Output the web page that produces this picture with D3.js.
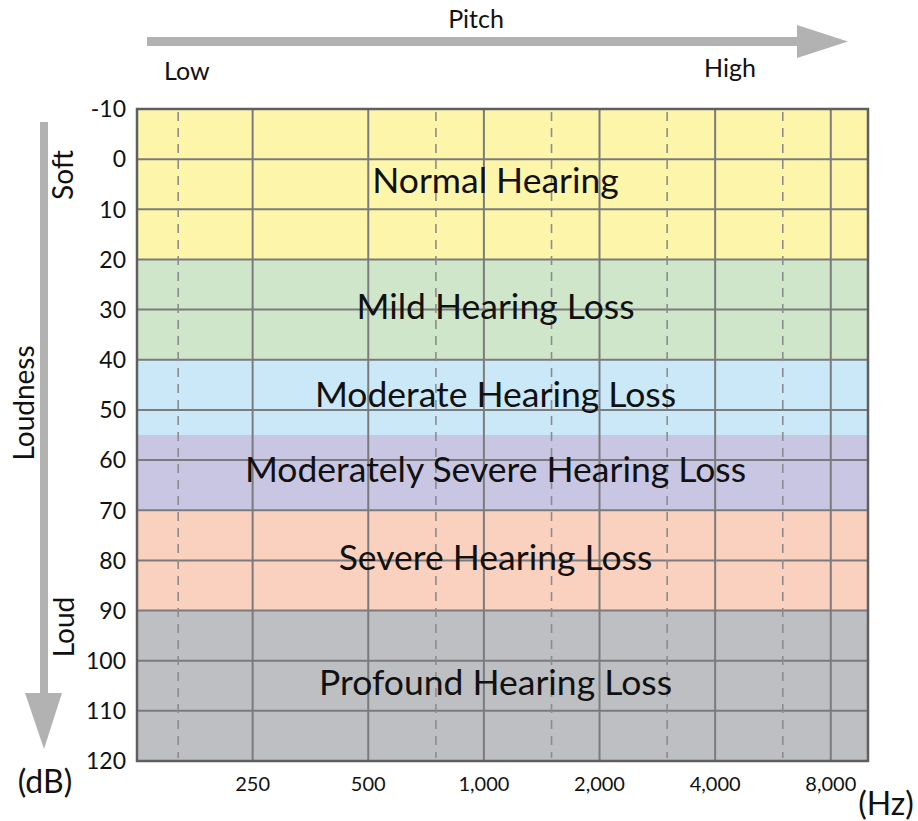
<!DOCTYPE html>
<html>
<head>
<meta charset="utf-8">
<script src="https://cdn.jsdelivr.net/npm/d3@7"></script>
<style>
  html, body { margin: 0; padding: 0; background: #ffffff; }
  svg { display: block; font-family: "Lato", "Open Sans", sans-serif; }
</style>
</head>
<body>
<svg id="chart" width="918" height="821"></svg>
<script>
// ---- Data ----
const bandLabels = ["Normal Hearing", "Mild Hearing Loss", "Moderate Hearing Loss",
  "Moderately Severe Hearing Loss", "Severe Hearing Loss", "Profound Hearing Loss"];
const bandFrom = [-10, 20, 40, 55, 70, 90];
const bandTo = [20, 40, 55, 70, 90, 120];
const bandColors = ["#fdf6aa", "#d0e6cb", "#cbe8f8", "#c8c6e3", "#fad1be", "#bdbfc2"];
const dbTicks = [-10, 0, 10, 20, 30, 40, 50, 60, 70, 80, 90, 100, 110, 120];
const freqTicks = [250, 500, 1000, 2000, 4000, 8000];
const freqTickLabels = ["250", "500", "1,000", "2,000", "4,000", "8,000"];
const freqDashed = [160, 750, 1500, 3000, 6000];
const freqDomain = [125, 10000];
const dbDomain = [-10, 120];

// ---- Layout ----
const svg = d3.select("#chart");
const plot = { left: 137, right: 868, top: 109, bottom: 761 };

const x = d3.scaleLog().domain(freqDomain).range([plot.left, plot.right]);
const y = d3.scaleLinear().domain(dbDomain).range([plot.top, plot.bottom]);

// Bands
svg.append("g").selectAll("rect")
  .data(bandLabels)
  .join("rect")
  .attr("x", plot.left)
  .attr("width", plot.right - plot.left)
  .attr("y", (d, i) => y(bandFrom[i]))
  .attr("height", (d, i) => y(bandTo[i]) - y(bandFrom[i]))
  .attr("fill", (d, i) => bandColors[i]);

// Horizontal grid lines
svg.append("g").selectAll("line")
  .data(dbTicks)
  .join("line")
  .attr("x1", plot.left).attr("x2", plot.right)
  .attr("y1", d => y(d)).attr("y2", d => y(d))
  .attr("stroke", "#7b7b7d").attr("stroke-width", 2);

// Dashed vertical lines
svg.append("g").selectAll("line")
  .data(freqDashed)
  .join("line")
  .attr("x1", d => x(d)).attr("x2", d => x(d))
  .attr("y1", plot.top + 3).attr("y2", plot.bottom - 3)
  .attr("stroke", "#8c8c90").attr("stroke-width", 1.6)
  .attr("stroke-dasharray", "9,7");

// Solid vertical lines
svg.append("g").selectAll("line")
  .data(freqTicks)
  .join("line")
  .attr("x1", d => x(d)).attr("x2", d => x(d))
  .attr("y1", plot.top).attr("y2", plot.bottom)
  .attr("stroke", "#7b7b7d").attr("stroke-width", 2);

// Border
svg.append("rect")
  .attr("x", plot.left).attr("y", plot.top)
  .attr("width", plot.right - plot.left).attr("height", plot.bottom - plot.top)
  .attr("fill", "none").attr("stroke", "#5f5f62").attr("stroke-width", 2.5);

// Band labels
svg.append("g").selectAll("text")
  .data(bandLabels)
  .join("text")
  .attr("x", (plot.left + plot.right) / 2 - 7)
  .attr("y", (d, i) => y((bandFrom[i] + bandTo[i]) / 2))
  .attr("dy", "0.26em")
  .attr("text-anchor", "middle")
  .attr("font-size", 35.5)
  .attr("fill", "#111")
  .text(d => d);

// Y tick labels
svg.append("g").selectAll("text")
  .data(dbTicks)
  .join("text")
  .attr("x", 126)
  .attr("y", d => y(d))
  .attr("dy", "0.36em")
  .attr("text-anchor", "end")
  .attr("font-size", 23)
  .attr("fill", "#111")
  .text(d => d);

// X tick labels
svg.append("g").selectAll("text")
  .data(freqTicks)
  .join("text")
  .attr("x", d => x(d))
  .attr("y", 791)
  .attr("text-anchor", "middle")
  .attr("font-size", 20)
  .attr("fill", "#111")
  .text((d, i) => freqTickLabels[i]);

// Units
svg.append("text").attr("x", 45).attr("y", 793).attr("text-anchor", "middle")
  .attr("font-size", 32).attr("fill", "#111").text("(dB)");
svg.append("text").attr("x", 886).attr("y", 815).attr("text-anchor", "middle")
  .attr("font-size", 32).attr("fill", "#111").text("(Hz)");

// Pitch arrow (top)
const arrowFill = "#b3b2b3";
svg.append("rect").attr("x", 147).attr("y", 37).attr("width", 655).attr("height", 9).attr("fill", arrowFill);
svg.append("path").attr("d", "M797,25 L848,41.5 L797,58 Z").attr("fill", arrowFill);
svg.append("text").attr("x", 476).attr("y", 28).attr("text-anchor", "middle")
  .attr("font-size", 25).attr("fill", "#111").text("Pitch");
svg.append("text").attr("x", 164).attr("y", 80).attr("text-anchor", "start")
  .attr("font-size", 25).attr("fill", "#111").text("Low");
svg.append("text").attr("x", 730).attr("y", 77).attr("text-anchor", "middle")
  .attr("font-size", 25).attr("fill", "#111").text("High");

// Loudness arrow (left)
svg.append("rect").attr("x", 40).attr("y", 122).attr("width", 8).attr("height", 575).attr("fill", arrowFill);
svg.append("path").attr("d", "M25,693 L62,693 L44,749 Z").attr("fill", arrowFill);
svg.append("text").attr("transform", "translate(73,175) rotate(-90)").attr("text-anchor", "middle")
  .attr("font-size", 28).attr("fill", "#111").text("Soft");
svg.append("text").attr("transform", "translate(34,403) rotate(-90)").attr("text-anchor", "middle")
  .attr("font-size", 28).attr("fill", "#111").text("Loudness");
svg.append("text").attr("transform", "translate(74,627) rotate(-90)").attr("text-anchor", "middle")
  .attr("font-size", 28).attr("fill", "#111").text("Loud");
</script>
</body>
</html>
